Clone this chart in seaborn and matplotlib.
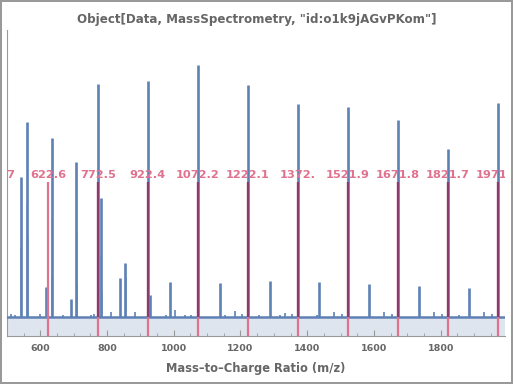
import matplotlib
matplotlib.use("Agg")
import matplotlib.pyplot as plt
import seaborn as sns
import pandas as pd

# main peaks (m/z, intensity)
peak_mz = [540.6, 559.5, 616.5, 633.5, 691.5, 707.5, 771.6, 781.5, 839.5, 854.5,
           921.8, 927.5, 989.5, 1071.4, 1137.5, 1221.2, 1288.5, 1371.2, 1436.5,
           1521.0, 1586.5, 1670.9, 1735.5, 1820.8, 1884.5, 1970.7]
peak_int = [140, 195, 30, 179, 18, 155, 233, 119, 39, 54,
            236, 22, 35, 252, 34, 232, 36, 213, 35,
            210, 33, 197, 31, 168, 29, 214]

# isotope shoulders (drawn lighter)
iso_mz = [541.6, 560.5, 561.5, 634.5, 635.5, 708.5, 709.5, 782.5, 783.5, 855.5,
          928.5, 1372.4, 1672.1, 1822.0, 1971.9]
iso_int = [70, 113, 80, 99, 40, 86, 34, 60, 25, 40,
           18, 14, 10, 6, 10]

# baseline noise
noise_mz = [513, 525, 600, 623, 668, 751, 761, 811, 885, 976, 1003, 1033, 1053,
            1153, 1183, 1205, 1255, 1318, 1333, 1353, 1429, 1481, 1503, 1631,
            1653, 1780, 1803, 1856, 1930, 1953]
noise_int = [3, 2, 3, 5, 2, 2, 3, 5, 5, 2, 7, 2, 2,
             2, 6, 3, 2, 2, 4, 3, 2, 5, 3, 5,
             3, 5, 3, 2, 5, 3]

# labeled positions
label_mz = [472.7, 622.6, 772.5, 922.4, 1072.2, 1222.1, 1372.0, 1521.9, 1671.8, 1821.7, 1971.6]
label_txt = ["472.7", "622.6", "772.5", "922.4", "1072.2", "1222.1", "1372.", "1521.9",
             "1671.8", "1821.7", "1971.6"]

blue = "#5e81b5"
pink = "#e0728f"
purple = "#8b3a70"
gray = "#666666"

sns.set_style("white")
plt.rcParams["font.family"] = ["DejaVu Sans"]

fig = plt.figure(figsize=(5.13, 3.84), dpi=100)
fig.patch.set_edgecolor("#999999")
fig.patch.set_linewidth(1.5)
ax = fig.add_axes([7 / 513, (384 - 336) / 384, 498 / 513, (336 - 30) / 384])

ymin, ymax = -19, 287
line_top = 135
label_y = 142

ax.axhspan(ymin, 0, color="#dfe5ef", zorder=0)

df = pd.DataFrame({"mz": peak_mz, "intensity": peak_int})
iso = pd.DataFrame({"mz": iso_mz, "intensity": iso_int})
noise = pd.DataFrame({"mz": noise_mz, "intensity": noise_int})

ax.vlines(noise["mz"], 0, noise["intensity"], color=blue, lw=1.2, zorder=2)
ax.vlines(iso["mz"], 0, iso["intensity"], color=blue, lw=1.2, alpha=0.55, zorder=2)
ax.vlines(df["mz"], 0, df["intensity"], color=blue, lw=1.9, zorder=3)
ax.axhline(0, color=blue, lw=1.8, zorder=3)

# annotation lines
for mz, txt in zip(label_mz, label_txt):
    ax.vlines(mz, ymin, line_top, color=pink, lw=1.6, zorder=4)
    near = [h for m, h in zip(peak_mz, peak_int) if abs(m - mz) < 2.5]
    if near:
        ax.vlines(mz, 0, min(max(near), line_top), color=purple, lw=1.6, zorder=5)
    ax.text(mz, label_y, txt, color=pink, fontsize=8.2, fontweight="bold",
            ha="center", va="center", clip_on=True, zorder=6)

ax.set_xlim(500, 1993)
ax.set_ylim(ymin, ymax)
ax.set_yticks([])
ax.set_xticks(range(600, 1801, 200))
ax.set_xticks(range(550, 1993, 50), minor=True)
ax.tick_params(axis="x", which="major", direction="in", length=4, width=0.8,
               color="#999999", labelsize=6.8, labelcolor=gray, pad=5.5, bottom=True)
ax.tick_params(axis="x", which="minor", direction="in", length=2.5, width=0.6,
               color="#999999", bottom=True)
for lab in ax.get_xticklabels():
    lab.set_fontweight("bold")

for side in ["top", "right"]:
    ax.spines[side].set_visible(False)
for side in ["left", "bottom"]:
    ax.spines[side].set_color("#999999")
    ax.spines[side].set_linewidth(0.8)

ax.set_xlabel("Mass\u2013to\u2013Charge Ratio (m/z)", fontsize=8.3, fontweight="bold",
              color=gray, labelpad=7)
fig.text(0.5, 1 - 19 / 384, 'Object[Data, MassSpectrometry, "id:o1k9jAGvPKom"]',
         ha="center", va="center", fontsize=8.6, fontweight="bold", color=gray)

fig.savefig("out.png", dpi=100)
